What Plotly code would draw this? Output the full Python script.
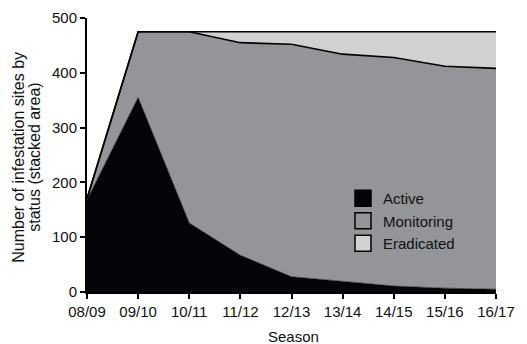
import plotly.graph_objects as go

seasons = ["08/09", "09/10", "10/11", "11/12", "12/13", "13/14", "14/15", "15/16", "16/17"]
active = [168, 355, 126, 67, 28, 20, 11, 7, 5]
monitoring = [2, 120, 349, 388, 424, 414, 417, 405, 403]
eradicated = [0, 0, 0, 20, 23, 41, 47, 63, 67]

series = [
    ("Active", active, "#050509", 0.5),
    ("Monitoring", monitoring, "#939598", 1.6),
    ("Eradicated", eradicated, "#d0d2d1", 1.6),
]

FONT = "Arial, Liberation Sans, Helvetica, sans-serif"

fig = go.Figure()

# stacked areas
for name, vals, color, lw in series:
    fig.add_trace(go.Scatter(
        x=seasons, y=vals, mode="lines", stackgroup="one",
        fillcolor=color, line=dict(color="#000000", width=lw),
        name=name, showlegend=False, hoverinfo="skip",
    ))

# square legend keys
for name, vals, color, lw in series:
    fig.add_trace(go.Scatter(
        x=[None], y=[None], mode="markers", name=name,
        marker=dict(symbol="square", size=16, color=color,
                    line=dict(color="#000000", width=1.5)),
    ))

L, R, T, B = 87, 31, 18, 52
W, H = 527, 344
pw = W - L - R
ph = H - T - B

fig.update_layout(
    width=W, height=H,
    margin=dict(l=L, r=R, t=T, b=B),
    paper_bgcolor="white", plot_bgcolor="white",
    font=dict(family=FONT, size=15, color="#111111"),
    legend=dict(x=(343 - L) / pw, y=(H - B - 182) / ph,
                xanchor="left", yanchor="top", traceorder="normal",
                bgcolor="rgba(0,0,0,0)", font=dict(size=15),
                tracegroupgap=0),
    xaxis=dict(
        type="category", range=[0, len(seasons) - 1], automargin=False,
        showline=True, linecolor="#000000", linewidth=2,
        ticks="outside", ticklen=5, tickwidth=2, tickcolor="#000000",
        showgrid=False, zeroline=False,
    ),
    yaxis=dict(
        range=[0, 500], tickvals=[0, 100, 200, 300, 400, 500], automargin=False,
        showline=True, linecolor="#000000", linewidth=2,
        ticks="outside", ticklen=5, tickwidth=2, tickcolor="#000000",
        showgrid=False, zeroline=False,
    ),
    annotations=[
        dict(text="Season", xref="paper", yref="paper",
             x=(293 - L) / pw, y=-(336 - (H - B)) / ph,
             xanchor="center", yanchor="middle", showarrow=False,
             font=dict(size=15)),
        dict(text="Number of infestation sites by", textangle=-90,
             xref="paper", yref="paper", x=(19 - L) / pw, y=0.49,
             xanchor="center", yanchor="middle", showarrow=False,
             font=dict(size=16)),
        dict(text="status (stacked area)", textangle=-90,
             xref="paper", yref="paper", x=(35 - L) / pw, y=0.49,
             xanchor="center", yanchor="middle", showarrow=False,
             font=dict(size=16)),
    ],
)

fig.write_html("out.html")
